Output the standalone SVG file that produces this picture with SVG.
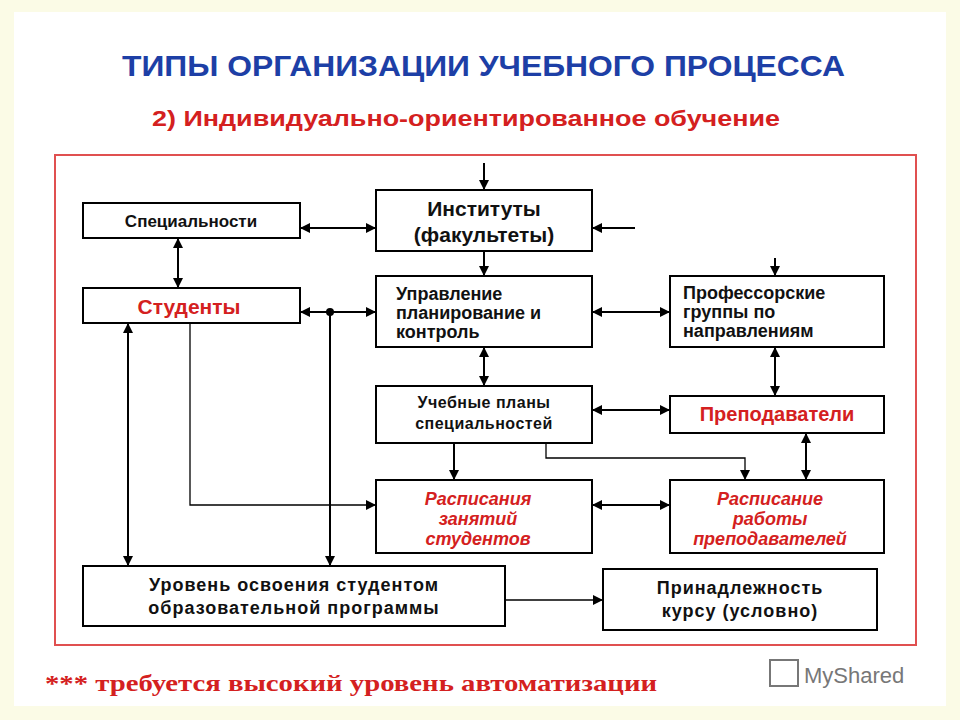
<svg xmlns="http://www.w3.org/2000/svg" width="960" height="720" viewBox="0 0 960 720">
<defs>
<marker id="a" viewBox="0 0 10 10" refX="10" refY="5" markerWidth="10" markerHeight="10" markerUnits="userSpaceOnUse" orient="auto-start-reverse"><path d="M0,0 L10,5 L0,10 Z" fill="#000"/></marker>
<style>
.b{fill:#fff;stroke:#000;stroke-width:2}
.t{font-family:"Liberation Sans",Arial,sans-serif;font-weight:bold;fill:#111;text-anchor:middle}
.s{text-anchor:start}
.r{fill:#d42020}
.i{font-style:italic}
.c line,.c polyline{stroke:#000;stroke-width:2;fill:none}
.c .th{stroke-width:1.3}
</style>
</defs>
<rect width="960" height="720" fill="#fbfbe6"/>
<rect x="14" y="12" width="932" height="694" fill="#fff"/>
<text x="122" y="76" textLength="723" lengthAdjust="spacingAndGlyphs" font-family="Liberation Sans,Arial,sans-serif" font-size="30" font-weight="bold" fill="#1d3fa6">ТИПЫ ОРГАНИЗАЦИИ УЧЕБНОГО ПРОЦЕССА</text>
<text x="152" y="126" textLength="628" lengthAdjust="spacingAndGlyphs" font-family="Liberation Sans,Arial,sans-serif" font-size="22" font-weight="bold" fill="#d42020">2) Индивидуально-ориентированное обучение</text>
<rect x="55" y="155" width="861" height="490" fill="none" stroke="#e05050" stroke-width="2"/>

<g class="c">
<line x1="484" y1="163" x2="484" y2="190" marker-end="url(#a)"/>
<line x1="300" y1="228" x2="376" y2="228" marker-start="url(#a)" marker-end="url(#a)"/>
<line x1="635" y1="228" x2="592" y2="228" marker-end="url(#a)"/>
<line x1="484" y1="251" x2="484" y2="276" marker-end="url(#a)"/>
<line x1="178" y1="238" x2="178" y2="288" marker-start="url(#a)" marker-end="url(#a)"/>
<line x1="300" y1="312" x2="376" y2="312" marker-start="url(#a)" marker-end="url(#a)"/>
<circle cx="330" cy="312" r="4" fill="#000"/>
<line x1="592" y1="312" x2="670" y2="312" marker-start="url(#a)" marker-end="url(#a)"/>
<line x1="775" y1="258" x2="775" y2="276" marker-end="url(#a)"/>
<line x1="484" y1="347" x2="484" y2="386" marker-start="url(#a)" marker-end="url(#a)"/>
<line x1="775" y1="347" x2="775" y2="396" marker-start="url(#a)" marker-end="url(#a)"/>
<line x1="592" y1="410" x2="670" y2="410" marker-start="url(#a)" marker-end="url(#a)"/>
<line x1="454" y1="443" x2="454" y2="480" marker-end="url(#a)"/>
<polyline class="th" points="546,443 546,458 745,458 745,480" marker-end="url(#a)"/>
<line x1="806" y1="433" x2="806" y2="480" marker-start="url(#a)" marker-end="url(#a)"/>
<polyline class="th" points="190,323 190,505 376,505" marker-end="url(#a)"/>
<line x1="592" y1="505" x2="670" y2="505" marker-start="url(#a)" marker-end="url(#a)"/>
<line x1="128" y1="323" x2="128" y2="566" marker-start="url(#a)" marker-end="url(#a)"/>
<line x1="330" y1="312" x2="330" y2="566" marker-end="url(#a)"/>
<line class="th" x1="505" y1="600" x2="603" y2="600" marker-end="url(#a)"/>
</g>

<g id="spec"><rect class="b" x="83" y="203" width="217" height="35"/><text class="t" x="191" y="227" font-size="17">Специальности</text></g>
<g id="inst"><rect class="b" x="376" y="190" width="216" height="61"/><text class="t" x="484" y="216" font-size="21">Институты</text><text class="t" x="484" y="242" font-size="21">(факультеты)</text></g>
<g id="stud"><rect class="b" x="83" y="288" width="217" height="35"/><text class="t r" x="189" y="314" font-size="21">Студенты</text></g>
<g id="upr"><rect class="b" x="376" y="276" width="216" height="71"/><text class="t s" x="396" y="300" font-size="18">Управление</text><text class="t s" x="396" y="319" font-size="18">планирование и</text><text class="t s" x="396" y="338" font-size="18">контроль</text></g>
<g id="prof"><rect class="b" x="670" y="276" width="214" height="71"/><text class="t s" x="683" y="299" font-size="18">Профессорские</text><text class="t s" x="683" y="318" font-size="18">группы по</text><text class="t s" x="683" y="337" font-size="18">направлениям</text></g>
<g id="uch"><rect class="b" x="376" y="386" width="216" height="57"/><text class="t" x="484" y="408" font-size="16" letter-spacing="0.5">Учебные планы</text><text class="t" x="484" y="429" font-size="16" letter-spacing="0.5">специальностей</text></g>
<g id="prep"><rect class="b" x="670" y="396" width="214" height="37"/><text class="t r" x="777" y="421" font-size="20">Преподаватели</text></g>
<g id="rasp1"><rect class="b" x="376" y="480" width="216" height="73"/><text class="t r i" x="478" y="505" font-size="18">Расписания</text><text class="t r i" x="478" y="525" font-size="18">занятий</text><text class="t r i" x="478" y="545" font-size="18">студентов</text></g>
<g id="rasp2"><rect class="b" x="670" y="480" width="214" height="73"/><text class="t r i" x="770" y="505" font-size="18">Расписание</text><text class="t r i" x="770" y="525" font-size="18">работы</text><text class="t r i" x="770" y="545" font-size="18">преподавателей</text></g>
<g id="urov"><rect class="b" x="83" y="566" width="422" height="60"/><text class="t" x="294" y="591" font-size="18" letter-spacing="1">Уровень освоения студентом</text><text class="t" x="294" y="614" font-size="18" letter-spacing="1">образовательной программы</text></g>
<g id="prin"><rect class="b" x="603" y="569" width="274" height="61"/><text class="t" x="740" y="594" font-size="18" letter-spacing="1">Принадлежность</text><text class="t" x="740" y="617" font-size="18" letter-spacing="1">курсу (условно)</text></g>

<text x="45" y="691" textLength="612" lengthAdjust="spacingAndGlyphs" font-family="Liberation Serif,serif" font-size="24" font-weight="bold" fill="#d42020">*** требуется высокий уровень автоматизации</text>
<text x="804" y="683" font-family="Liberation Sans,Arial,sans-serif" font-size="22" fill="#777">MyShared</text>
<rect x="770" y="660" width="28" height="26" fill="none" stroke="#777" stroke-width="2"/>
</svg>
